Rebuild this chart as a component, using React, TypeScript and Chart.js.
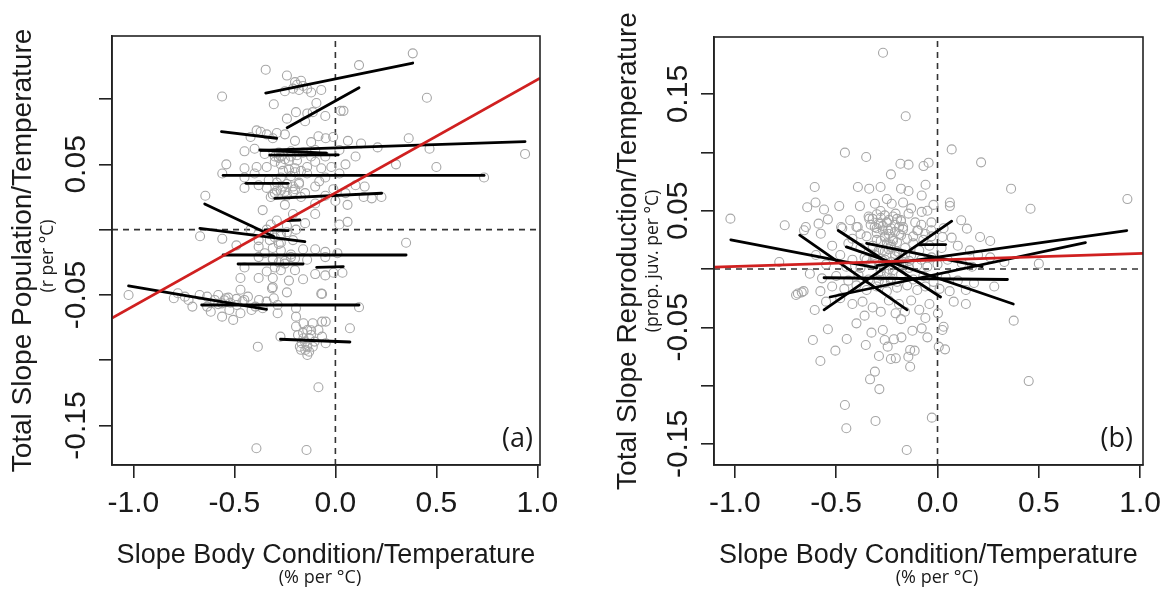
import React, { useEffect, useRef } from "react";
import { Chart, registerables } from "chart.js";

Chart.register(...registerables);

// ---------------- Panel (a) data ----------------
const aPointsX = [
  0.383, -0.345, -0.24, 0.117, -0.561, -0.305, 0.453, -0.2, -0.17, -0.21, -0.18, -0.14, -0.07, -0.19, -0.16, -0.25, -0.12,
  -0.094, 0.026, 0.04, -0.195, -0.139, -0.112, -0.24, -0.15, -0.05,
  -0.39, -0.37, -0.34, -0.29, -0.25, 0.363, -0.084, -0.048, -0.011, -0.42, -0.31, -0.2, -0.12,
  0.062, 0.127, 0.209, 0.466, 0.939, -0.45, -0.4, -0.3, -0.27, -0.19, -0.12, -0.05, 0.1, -0.35, -0.22, -0.1, 0.02, -0.28, -0.16,
  -0.54, -0.45, -0.39, -0.34, -0.27, -0.2, -0.14, -0.07, -0.02, 0.3, 0.5, -0.3, -0.23, -0.1, 0.05,
  -0.56, -0.4, -0.27, -0.14, -0.05, 0.02, 0.736, -0.33, -0.22, -0.08, -0.45, -0.18,
  -0.45, -0.38, -0.34, -0.29, -0.2, -0.1, -0.01, 0.1, 0.145, -0.25, -0.15, 0.05, -0.31, -0.26,
  -0.644, -0.32, -0.17, -0.05, 0.14, 0.18, 0.228, -0.25, 0.06, -0.36, -0.1, 0.0,
  -0.21, -0.1, -0.29, 0.06, -0.42, -0.34, -0.27, -0.195, -0.32, -0.24, -0.15, 0.02,
  -0.67, -0.56, -0.38, -0.325, -0.27, -0.21, 0.35, -0.49, -0.38, -0.31, -0.27, -0.16, -0.1, -0.05, 0.01, -0.35, -0.22, -0.28,
  -0.38, -0.31, -0.2, -0.14, -0.05, -0.45, -0.3, -0.27, -0.2, -0.1, -0.05, -0.01, 0.035, -0.47, -0.38, -0.31, -0.23, -0.16, -0.34, -0.25,
  -0.31, -0.07, -0.47, -1.024, -0.24,
  -0.8, -0.708, -0.635, -0.598, -0.561, -0.525, -0.47, -0.433, -0.378, -0.341, -0.305, -0.286, -0.396, -0.506, -0.314, -0.066,
  -0.78, -0.727, -0.672, -0.635, -0.58, -0.543, -0.488, -0.451, -0.415, -0.36, -0.561, -0.617, -0.745,
  -0.048, 0.072, 0.117,
  -0.195, -0.158, -0.139, -0.121, -0.158, -0.139, -0.176, -0.13, -0.139, -0.066, -0.048, -0.103, -0.195, -0.084, -0.112, -0.185, -0.167, -0.066, -0.149, -0.112,
  -0.272, -0.384, -0.084, -0.391, -0.143, -0.195, -0.286,
];
const aPointsY = [
  0.135, 0.1225, 0.118, 0.126, 0.102, 0.096, 0.101, 0.113, 0.114, 0.108, 0.107, 0.108, 0.107, 0.111, 0.11, 0.106, 0.105,
  0.097, 0.091, 0.091, 0.09, 0.089, 0.09, 0.085, 0.083, 0.087,
  0.076, 0.075, 0.073, 0.074, 0.073, 0.07, 0.0715, 0.07, 0.071, 0.071, 0.07, 0.068, 0.067,
  0.068, 0.066, 0.063, 0.062, 0.058, 0.06, 0.062, 0.056, 0.056, 0.057, 0.056, 0.056, 0.056, 0.058, 0.06, 0.061, 0.061, 0.059, 0.059,
  0.05, 0.047, 0.048, 0.048, 0.05, 0.047, 0.048, 0.047, 0.048, 0.05, 0.048, 0.052, 0.053, 0.052, 0.05,
  0.043, 0.043, 0.04, 0.043, 0.04, 0.043, 0.04, 0.038, 0.041, 0.037, 0.04, 0.036,
  0.032, 0.034, 0.032, 0.03, 0.031, 0.033, 0.031, 0.034, 0.033, 0.029, 0.028, 0.028, 0.027, 0.033,
  0.026, 0.025, 0.025, 0.026, 0.025, 0.024, 0.025, 0.019, 0.019, 0.015, 0.02, 0.022,
  0.012, 0.012, 0.007, 0.006, 0.0, 0.0, -0.003, 0.0, 0.004, 0.003, 0.005, 0.004,
  -0.005, -0.007, -0.008, -0.008, -0.01, -0.008, -0.01, -0.012, -0.013, -0.014, -0.016, -0.015, -0.015, -0.017, -0.018, -0.018, -0.019, -0.011,
  -0.021, -0.023, -0.022, -0.023, -0.021, -0.029, -0.029, -0.031, -0.031, -0.034, -0.035, -0.033, -0.033, -0.037, -0.037, -0.037, -0.039, -0.038, -0.032, -0.026,
  -0.044, -0.049, -0.046, -0.05, -0.048,
  -0.0525, -0.0589, -0.0513, -0.0538, -0.0564, -0.0615, -0.064, -0.0513, -0.0538, -0.0551, -0.0525, -0.064, -0.0589, -0.0691, -0.0449, -0.0492,
  -0.0487, -0.0538, -0.05, -0.0589, -0.05, -0.0525, -0.0577, -0.0538, -0.0615, -0.0602, -0.0666, -0.0628, -0.0513,
  -0.0704, -0.0755, -0.0594,
  -0.0666, -0.0717, -0.0768, -0.0806, -0.0832, -0.0883, -0.0896, -0.0934, -0.096, -0.0819, -0.087, -0.0857, -0.0742, -0.0768, -0.0717, -0.0806, -0.087, -0.0704, -0.0921, -0.0896,
  -0.0819, -0.0896, -0.1207, -0.1674, -0.1687, -0.0602, -0.0577,
];
// denser cores of the clouds in (a)
const aDensePointsX = [
  -0.28, -0.25, -0.22, -0.19, -0.26, -0.23, -0.2, -0.17, -0.29, -0.24, -0.21, -0.18, -0.3, -0.27, -0.24, -0.21,
  -0.33, -0.3, -0.27, -0.24, -0.31, -0.28, -0.25, -0.22, -0.55, -0.52, -0.49, -0.46, -0.58, -0.53, -0.16, -0.13,
  -0.14, -0.12, -0.17, -0.15,
];
const aDensePointsY = [
  0.055, 0.054, 0.056, 0.053, 0.045, 0.046, 0.044, 0.045, 0.036, 0.035, 0.033, 0.035, 0.028, 0.03, 0.026, 0.029,
  -0.003, -0.006, -0.005, -0.002, -0.022, -0.025, -0.024, -0.021, -0.054, -0.056, -0.053, -0.055, -0.057, -0.052, -0.079, -0.083,
  -0.09, -0.077, -0.092, -0.086,
];
// species lines: [x1, y1, x2, y2]
const aSegments = [
  [-0.345, 0.1046, 0.383, 0.1276],
  [-0.239, 0.0781, 0.117, 0.1087],
  [-0.564, 0.075, -0.291, 0.07],
  [-0.369, 0.0607, 0.939, 0.0674],
  [-0.374, 0.061, -0.044, 0.0585],
  [-0.325, 0.0571, 0.014, 0.0572],
  [-0.556, 0.0415, 0.736, 0.0415],
  [-0.443, 0.0355, -0.234, 0.0355],
  [-0.3, 0.024, 0.229, 0.0279],
  [-0.647, 0.0197, -0.305, -0.0053],
  [-0.671, 0.001, -0.151, -0.0092],
  [-0.242, 0.0069, -0.176, 0.0074],
  [-0.349, -0.0002, -0.234, -0.0008],
  [-0.556, -0.0194, 0.35, -0.0194],
  [-0.482, -0.0263, -0.16, -0.0263],
  [-0.093, -0.0288, 0.039, -0.0283],
  [-1.024, -0.0431, -0.341, -0.061],
  [-0.662, -0.0577, 0.117, -0.0577],
  [-0.272, -0.0839, 0.072, -0.086],
];
const aFitLine = [
  [-1.106, -0.0677],
  [1.013, 0.116],
];

// ---------------- Panel (b) data ----------------
const bPointsX = [
  -0.269, -0.157, -0.457, -0.352, 0.07, 0.215, -0.23, -0.183, -0.143, -0.069, -0.044,
  -0.606, -0.393, -0.337, -0.281, -0.18, -0.143, -0.059, 0.363, 0.937, 0.459,
  -0.602, -0.643, -0.56, -0.485, -0.383, -0.309, -0.226, -0.17, -0.078, 0.061, 0.061, -0.25, -0.13, -0.02,
  -1.022, -0.541, -0.587, -0.431, -0.337, -0.281, -0.207, -0.143, -0.078, -0.05, 0.117, 0.145, 0.21, -0.25, -0.18, -0.11, -0.03, 0.03, -0.4, -0.47, -0.3,
  -0.754, -0.65, -0.659, -0.576, -0.476, -0.394, -0.28, -0.244, -0.17, -0.096, -0.031, 0.024, 0.07, -0.35, -0.3, -0.26, -0.22, -0.19, -0.15, -0.12, -0.07, -0.04, 0.02, 0.1, 0.16, -0.44, -0.52, -0.38, -0.32, -0.27, -0.23, -0.2, -0.16, -0.09, 0.26, 0.2,
  -0.781, 0.5, -0.6, -0.48, -0.42, -0.36, -0.31, -0.26, -0.21, -0.17, -0.13, -0.08, -0.03, 0.05, 0.12, 0.17, -0.55, -0.45, -0.38, -0.33, -0.29, -0.24, -0.19, -0.14, -0.1, -0.05, 0.0, 0.26, 0.33,
  -0.63, -0.57, -0.5, -0.44, -0.39, -0.34, -0.28, -0.23, -0.18, -0.12, -0.07, -0.02, 0.04, 0.1, 0.18, 0.28, -0.689, -0.661, -0.578, -0.52, -0.46, -0.4, -0.35, -0.3, -0.25, -0.2, -0.15, -0.1, -0.06, 0.01, 0.06, 0.14,
  -0.698, -0.67, -0.606, -0.541, -0.615, -0.578, -0.504, -0.448, -0.4, -0.354, -0.326, -0.27, -0.261, -0.215, -0.178, -0.206, -0.23, -0.289, -0.246, -0.135, -0.113, -0.144, -0.135, -0.28, -0.207, -0.161, -0.124, -0.078, -0.05, 0.002, 0.024, 0.006, 0.037, 0.03,
  -0.309, -0.333, -0.287, 0.45, 0.376, -0.457, -0.45, -0.306, -0.028, -0.152,
  -0.48, -0.42, -0.37, -0.32, -0.24, -0.19, -0.13, -0.09, -0.04, 0.08, 0.14, -0.55, -0.36, -0.18, -0.06,
];
const bPointsY = [
  0.1855, 0.131, 0.0998, 0.0961, 0.1026, 0.0915, 0.0812, 0.0903, 0.0895, 0.0883, 0.0912,
  0.0703, 0.0703, 0.0689, 0.0703, 0.0689, 0.0669, 0.0723, 0.0689, 0.06, 0.0517,
  0.057, 0.053, 0.051, 0.054, 0.054, 0.056, 0.056, 0.057, 0.063, 0.057, 0.054, 0.06, 0.052, 0.055,
  0.0432, 0.0426, 0.0389, 0.0418, 0.0432, 0.0498, 0.0475, 0.0475, 0.049, 0.05, 0.0418, 0.0346, 0.0275, 0.04, 0.042, 0.04, 0.04, 0.035, 0.036, 0.035, 0.035,
  0.0375, 0.036, 0.0332, 0.0303, 0.036, 0.036, 0.0389, 0.0332, 0.036, 0.0332, 0.0332, 0.0275, 0.0269, 0.028, 0.025, 0.028, 0.024, 0.03, 0.026, 0.022, 0.025, 0.02, 0.018, 0.02, 0.016, 0.022, 0.02, 0.018, 0.02, 0.016, 0.019, 0.015, 0.018, 0.016, 0.024, 0.012,
  0.006, 0.0046, 0.012, 0.012, 0.008, 0.01, 0.012, 0.008, 0.011, 0.006, 0.012, 0.008, 0.01, 0.008, 0.005, 0.002, 0.004, 0.002, 0.001, 0.004, 0.002, 0.0, 0.003, 0.001, 0.003, 0.002, 0.004, 0.01, 0.006,
  -0.004, -0.008, -0.006, -0.01, -0.005, -0.009, -0.006, -0.01, -0.005, -0.009, -0.006, -0.011, -0.007, -0.01, -0.012, -0.015, -0.021, -0.019, -0.019, -0.015, -0.017, -0.014, -0.018, -0.015, -0.019, -0.016, -0.014, -0.018, -0.015, -0.017, -0.019, -0.018,
  -0.0223, -0.02, -0.0352, -0.0517, -0.0609, -0.0789, -0.07, -0.06, -0.0466, -0.0652, -0.0546, -0.0523, -0.0609, -0.0603, -0.0586, -0.0766, -0.0772, -0.0746, -0.0666, -0.0694, -0.07, -0.0752, -0.0838, -0.0366, -0.038, -0.0366, -0.0529, -0.0509, -0.0586, -0.038, -0.0523, -0.0666, -0.0689, -0.0495,
  -0.088, -0.0946, -0.103, -0.0961, -0.0443, -0.1166, -0.1366, -0.1303, -0.1275, -0.1552,
  -0.025, -0.03, -0.028, -0.033, -0.027, -0.03, -0.027, -0.035, -0.03, -0.028, -0.03, -0.028, -0.04, -0.043, -0.042,
];
// the solid grey core of the cloud in (b)
const bDensePointsX = [
  -0.34, -0.32, -0.3, -0.28, -0.26, -0.24, -0.22, -0.2, -0.18, -0.33, -0.31, -0.29, -0.27, -0.25, -0.23, -0.21, -0.19, -0.17,
  -0.3, -0.27, -0.24, -0.21, -0.18, -0.26, -0.22, -0.28, -0.25, -0.23, -0.2, -0.32, -0.29, -0.26, -0.24, -0.21, -0.19, -0.16,
  -0.35, -0.31, -0.27, -0.23, -0.2, -0.17, -0.14, -0.28, -0.25, -0.22, -0.29, -0.26, -0.23, -0.2, -0.12, -0.1, -0.08, -0.38,
  -0.42, -0.06, -0.03,
];
const bDensePointsY = [
  0.045, 0.043, 0.047, 0.044, 0.046, 0.042, 0.045, 0.043, 0.041, 0.038, 0.036, 0.039, 0.037, 0.04, 0.035, 0.038, 0.036, 0.034,
  0.031, 0.033, 0.03, 0.032, 0.029, 0.027, 0.026, 0.024, 0.022, 0.021, 0.023, 0.018, 0.016, 0.015, 0.017, 0.013, 0.014, 0.012,
  0.008, 0.009, 0.007, 0.006, 0.005, 0.004, 0.007, -0.002, -0.004, -0.001, -0.01, -0.012, -0.008, -0.011, 0.028, 0.033, 0.038, 0.03,
  0.026, 0.03, 0.028,
];
const bSegments = [
  [-1.02, 0.025, -0.3, 0.001],
  [-0.68, 0.029, -0.15, -0.035],
  [-0.49, 0.033, 0.015, -0.024],
  [-0.35, 0.022, 0.22, 0.002],
  [-0.56, -0.035, 0.07, 0.041],
  [-0.56, -0.0075, 0.345, -0.009],
  [-0.53, -0.024, 0.73, 0.0226],
  [-0.3, 0.003, 0.934, 0.033],
  [-0.45, 0.019, 0.374, -0.03],
  [-0.09, 0.021, 0.04, 0.021],
];
const bFitLine = [
  [-1.103, 0.0017],
  [1.014, 0.0134],
];

// ---------------- axes / labels ----------------
const xTickValues = [-1, -0.5, 0, 0.5, 1];
const xTickLabels = ["-1.0", "-0.5", "0.0", "0.5", "1.0"];
const aYTickValues = [-0.15, -0.1, -0.05, 0, 0.05, 0.1];
const aYLabelValues = [-0.15, -0.05, 0.05];
const aYLabels = ["-0.15", "-0.05", "0.05"];
const bYTickValues = [-0.15, -0.1, -0.05, 0, 0.05, 0.1, 0.15];
const bYLabelValues = [-0.15, -0.05, 0.05, 0.15];
const bYLabels = ["-0.15", "-0.05", "0.05", "0.15"];

const xTitle = "Slope Body Condition/Temperature";
const xUnit = "(% per °C)";
const aYTitle = "Total Slope Population/Temperature";
const aYUnit = "(r per °C)";
const bYTitle = "Total Slope Reproduction/Temperature";
const bYUnit = "(prop. juv. per °C)";

const W = 584;
const H = 593;
const INK = "#1a1a1a";
const MAIN_FONT = '"Liberation Sans", Arial, sans-serif';
const SMALL_FONT = '"Open Sans", sans-serif';

type PanelSpec = {
  left: number;
  area: { left: number; right: number; top: number; bottom: number };
  xRange: [number, number];
  yRange: [number, number];
  px: number[];
  py: number[];
  segments: number[][];
  fit: number[][];
  yTicks: number[];
  yLabelValues: number[];
  yLabels: string[];
  yTitle: string;
  yUnit: string;
  yTitleX: number;
  yUnitX: number;
  yUnitCenter: number;
  xUnitCenter: number;
  tag: string;
  tagRight: number;
};

const panels: PanelSpec[] = [
  {
    left: 0,
    area: { left: 112, right: 540, top: 36, bottom: 465 },
    xRange: [-1.106, 1.013],
    yRange: [-0.1802, 0.1483],
    px: aPointsX.concat(aDensePointsX),
    py: aPointsY.concat(aDensePointsY),
    segments: aSegments,
    fit: aFitLine,
    yTicks: aYTickValues,
    yLabelValues: aYLabelValues,
    yLabels: aYLabels,
    yTitle: aYTitle,
    yUnit: aYUnit,
    yTitleX: 30.5,
    yUnitX: 53,
    yUnitCenter: 256,
    xUnitCenter: 320,
    tag: "(a)",
    tagRight: 533,
  },
  {
    left: 584,
    area: { left: 130, right: 559, top: 37, bottom: 465 },
    xRange: [-1.103, 1.014],
    yRange: [-0.1681, 0.199],
    px: bPointsX.concat(bDensePointsX),
    py: bPointsY.concat(bDensePointsY),
    segments: bSegments,
    fit: bFitLine,
    yTicks: bYTickValues,
    yLabelValues: bYLabelValues,
    yLabels: bYLabels,
    yTitle: bYTitle,
    yUnit: bYUnit,
    yTitleX: 52,
    yUnitX: 74,
    yUnitCenter: 261,
    xUnitCenter: 353,
    tag: "(b)",
    tagRight: 549,
  },
];

function makeConfig(p: PanelSpec): any {
  const datasets: any[] = [];
  datasets.push({
    label: "fit",
    data: p.fit.map((d) => ({ x: d[0], y: d[1] })),
    showLine: true,
    borderColor: "rgb(208,32,32)",
    borderWidth: 2.8,
    pointRadius: 0,
    order: 0,
  });
  p.segments.forEach((s, i) => {
    datasets.push({
      label: "species " + (i + 1),
      data: [
        { x: s[0], y: s[1] },
        { x: s[2], y: s[3] },
      ],
      showLine: true,
      borderColor: "#000",
      borderWidth: 2.8,
      borderCapStyle: "round",
      pointRadius: 0,
      order: 1,
    });
  });
  datasets.push({
    label: "points",
    data: p.px.map((x, i) => ({ x, y: p.py[i] })),
    showLine: false,
    pointStyle: "circle",
    pointRadius: 4.5,
    pointBorderWidth: 1.1,
    pointBorderColor: "#a6a6a6",
    pointBackgroundColor: "rgba(0,0,0,0)",
    order: 2,
  });
  datasets.push({
    label: "h0",
    data: [
      { x: p.xRange[0], y: 0 },
      { x: p.xRange[1], y: 0 },
    ],
    showLine: true,
    borderColor: "#333",
    borderWidth: 1.6,
    borderDash: [6, 5],
    pointRadius: 0,
    order: 3,
  });
  datasets.push({
    label: "v0",
    data: [
      { x: 0, y: p.yRange[0] },
      { x: 0, y: p.yRange[1] },
    ],
    showLine: true,
    borderColor: "#333",
    borderWidth: 1.6,
    borderDash: [6, 5],
    pointRadius: 0,
    order: 3,
  });

  const textPlugin = {
    id: "rtext",
    afterDatasetsDraw(chart: any) {
      const ctx = chart.ctx;
      const a = chart.chartArea;
      ctx.save();
      ctx.strokeStyle = "#222";
      ctx.lineWidth = 1.6;
      ctx.strokeRect(a.left, a.top, a.right - a.left, a.bottom - a.top);
      ctx.restore();
    },
    afterDraw(chart: any) {
      const ctx = chart.ctx;
      const a = chart.chartArea;
      const xs = chart.scales.x;
      const ys = chart.scales.y;
      ctx.save();
      ctx.fillStyle = INK;
      ctx.textBaseline = "alphabetic";
      // x tick labels
      ctx.font = `30px ${MAIN_FONT}`;
      ctx.textAlign = "center";
      xTickValues.forEach((v, i) => {
        ctx.fillText(xTickLabels[i], xs.getPixelForValue(v), a.bottom + 47);
      });
      // y tick labels (rotated)
      p.yLabelValues.forEach((v, i) => {
        const y = ys.getPixelForValue(v);
        ctx.save();
        ctx.translate(a.left - 27.5, y);
        ctx.rotate(-Math.PI / 2);
        ctx.textAlign = "center";
        ctx.fillText(p.yLabels[i], 0, 0);
        ctx.restore();
      });
      // x title
      ctx.font = `27px ${MAIN_FONT}`;
      ctx.textAlign = "center";
      ctx.fillText(xTitle, (a.left + a.right) / 2, 563);
      ctx.font = `18px ${SMALL_FONT}`;
      ctx.fillText(xUnit, p.xUnitCenter, 583);
      // y title
      ctx.save();
      ctx.translate(p.yTitleX, (a.top + a.bottom) / 2);
      ctx.rotate(-Math.PI / 2);
      ctx.font = `28px ${MAIN_FONT}`;
      ctx.textAlign = "center";
      ctx.fillText(p.yTitle, 0, 0);
      ctx.restore();
      ctx.save();
      ctx.translate(p.yUnitX, p.yUnitCenter);
      ctx.rotate(-Math.PI / 2);
      ctx.font = `17.5px ${SMALL_FONT}`;
      ctx.textAlign = "center";
      ctx.fillText(p.yUnit, 0, 0);
      ctx.restore();
      // panel tag
      ctx.font = `27px ${SMALL_FONT}`;
      ctx.textAlign = "right";
      ctx.fillText(p.tag, p.tagRight, 447);
      ctx.restore();
    },
  };

  return {
    type: "scatter",
    data: { datasets },
    options: {
      animation: false,
      responsive: false,
      maintainAspectRatio: false,
      events: [],
      layout: {
        padding: { left: 0, top: p.area.top, right: W - p.area.right, bottom: 0 },
      },
      plugins: { legend: { display: false }, tooltip: { enabled: false }, title: { display: false } },
      scales: {
        x: {
          type: "linear",
          position: "bottom",
          min: p.xRange[0],
          max: p.xRange[1],
          afterBuildTicks: (s: any) => {
            s.ticks = xTickValues.map((v) => ({ value: v }));
          },
          afterFit: (s: any) => {
            s.height = H - p.area.bottom;
          },
          ticks: { display: false },
          grid: { drawOnChartArea: false, drawTicks: true, tickLength: 13, color: "#222", lineWidth: 1.6 },
          border: { display: true, color: "#222", width: 1.6 },
        },
        y: {
          type: "linear",
          position: "left",
          min: p.yRange[0],
          max: p.yRange[1],
          afterBuildTicks: (s: any) => {
            s.ticks = p.yTicks.map((v) => ({ value: v }));
          },
          afterFit: (s: any) => {
            s.width = p.area.left;
          },
          ticks: { display: false },
          grid: { drawOnChartArea: false, drawTicks: true, tickLength: 13, color: "#222", lineWidth: 1.6 },
          border: { display: true, color: "#222", width: 1.6 },
        },
      },
    },
    plugins: [textPlugin],
  };
}

function Panel({ spec }: { spec: PanelSpec }) {
  const ref = useRef<HTMLCanvasElement | null>(null);
  useEffect(() => {
    if (!ref.current) return;
    const chart = new Chart(ref.current, makeConfig(spec));
    return () => chart.destroy();
  }, [spec]);
  return (
    <canvas
      ref={ref}
      width={W}
      height={H}
      style={{ position: "absolute", left: spec.left, top: 0, width: W, height: H }}
    />
  );
}

export default function App() {
  return (
    <div style={{ position: "fixed", left: 0, top: 0, width: 1168, height: 593, background: "#fff", overflow: "hidden" }}>
      {panels.map((p) => (
        <Panel key={p.tag} spec={p} />
      ))}
    </div>
  );
}
